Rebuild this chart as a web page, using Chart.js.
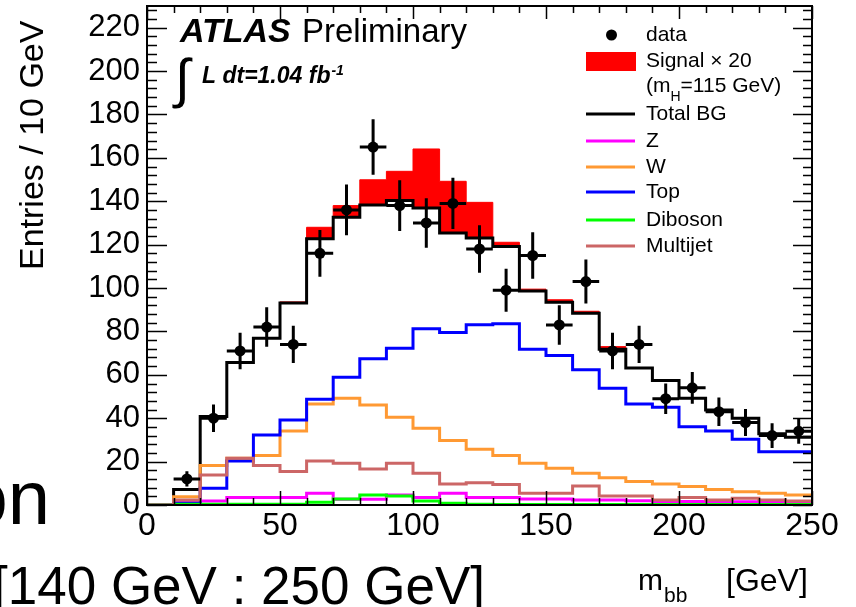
<!DOCTYPE html>
<html>
<head>
<meta charset="utf-8">
<script src="https://cdn.jsdelivr.net/npm/chart.js@4.4.1/dist/chart.umd.min.js"></script>
<style>
  html, body { margin: 0; padding: 0; background: #ffffff; }
  #wrap { width: 856px; height: 607px; position: relative; }
</style>
</head>
<body>
<div id="wrap"><canvas id="c" width="856" height="607"></canvas></div>
<script>
// ---------------- data ----------------
const binLow = [0,10,20,30,40,50,60,70,80,90,100,110,120,130,140,150,160,170,180,190,200,210,220,230,240];
const xEdgeMax = 250;
const xTickValues = [0,50,100,150,200,250];
const yTickValues = [0,20,40,60,80,100,120,140,160,180,200,220];

const dataCounts = [null,12,40,71,82,74,116,136,165,138,130,139,118,99,115,83,103,71,74,49,54,43,38,32,34];
const dataErrors = [null,3.5,6.3,8.4,9.1,8.6,10.8,11.7,12.8,11.7,11.4,11.8,10.9,9.9,10.7,9.1,10.1,8.4,8.6,7.0,7.3,6.6,6.2,5.7,5.8];

const totalBG   = [0,7.2,40.8,65.7,76.9,93.1,122.7,132.6,138.3,140.3,136.9,125.4,123.1,119.2,98.6,93.4,88.4,71.8,63.1,57.4,49.2,43.8,40.0,32.8,31.2];
const signalX20 = [0,0,0,0,0,0.5,5.3,5.4,11.6,13.5,27.2,23.8,16.4,1.9,0.9,1.2,0.9,1.2,0,0,0,0,0,0,0];
const zBG       = [0,1.1,1.8,3.4,3.4,3.4,5.4,2.6,2.6,4.6,3.4,5.4,3.5,3.5,2.8,2.8,2.3,2.3,2.0,1.6,1.6,1.5,1.5,1.5,1.5];
const wBG       = [0,3.8,18.2,21.5,22.8,34.1,46.6,49.2,46.1,40.5,35.4,29.7,25.7,22.8,19.2,16.9,14.6,12.6,10.8,9.7,8.5,7.2,6.1,5.4,4.6];
const topBG     = [0,0.8,7.7,20.3,32.3,39.2,48.8,58.9,67.4,72.3,81.2,79.5,83.1,83.5,71.8,68.9,62.3,53.8,46.6,45.1,36.1,34.1,30.3,24.6,24.6];
const dibosonBG = [0,0.3,0.3,0.3,0.3,0.3,1.3,2.8,4.6,4.2,1.8,0.8,0.3,0.2,0.2,0.2,0.2,0.2,0.2,0.2,0.2,0.2,0.2,0.2,0.2];
const multijetBG= [0,2.3,13.8,21.5,18.2,15.4,20.3,19.2,16.6,19.2,14.6,9.7,10.3,9.5,5.4,5.4,8.8,4.2,4.2,2.3,3.5,2.3,3.1,2.3,1.8];

// ---------------- helpers ----------------
const FONT = '"Liberation Sans", Arial, Helvetica, sans-serif';
Chart.defaults.font.family = FONT;
Chart.defaults.color = '#000';

function stepPoints(vals) {
  const pts = binLow.map((x, i) => ({ x: x, y: vals[i] }));
  pts.push({ x: xEdgeMax, y: vals[vals.length - 1] });
  return pts;
}
const binHalf = (binLow[1] - binLow[0]) / 2;
const dataPoints = [];
binLow.forEach((x, i) => {
  if (dataCounts[i] !== null) dataPoints.push({ x: x + binHalf, y: dataCounts[i], err: dataErrors[i] });
});
const signalTop = totalBG.map((v, i) => v + signalX20[i]);

const COL = {
  signal: '#ff0000', total: '#000000', z: '#ff00ff', w: '#ff9933',
  top: '#0000ff', diboson: '#00ff00', multijet: '#cc6666'
};

function histDS(label, vals, color, order, width) {
  return {
    label: label, data: stepPoints(vals), stepped: 'before',
    borderColor: color, borderWidth: width || 3, pointRadius: 0,
    fill: false, order: order, borderJoinStyle: 'miter', borderCapStyle: 'butt'
  };
}

// ---------------- plugins ----------------
const errorBars = {
  id: 'errorBars',
  afterDatasetsDraw(chart) {
    const xs = chart.scales.x, ys = chart.scales.y, ctx = chart.ctx;
    ctx.save();
    ctx.strokeStyle = '#000';
    ctx.lineWidth = 3;
    dataPoints.forEach(p => {
      const px = xs.getPixelForValue(p.x);
      const py = ys.getPixelForValue(p.y);
      ctx.beginPath();
      ctx.moveTo(px, ys.getPixelForValue(p.y + p.err));
      ctx.lineTo(px, ys.getPixelForValue(p.y - p.err));
      ctx.moveTo(xs.getPixelForValue(p.x - binHalf), py);
      ctx.lineTo(xs.getPixelForValue(p.x + binHalf), py);
      ctx.stroke();
    });
    ctx.restore();
  }
};

const frameTicks = {
  id: 'frameTicks',
  afterDatasetsDraw(chart) {
    const a = chart.chartArea, xs = chart.scales.x, ys = chart.scales.y, ctx = chart.ctx;
    ctx.save();
    ctx.strokeStyle = '#000';
    ctx.lineWidth = 1.5;
    ctx.beginPath();
    for (let v = 0; v <= 228; v += 4) {
      const py = Math.round(ys.getPixelForValue(v)) + 0.5;
      const major = v % 20 === 0;
      ctx.moveTo(a.left, py); ctx.lineTo(a.left + (major ? 20 : 10), py);
      ctx.moveTo(a.right, py); ctx.lineTo(a.right - (major ? 19 : 9), py);
    }
    for (let v = 0; v <= 250; v += 10) {
      const px = Math.round(xs.getPixelForValue(v)) + 0.5;
      const major = v % 50 === 0;
      ctx.moveTo(px, a.bottom); ctx.lineTo(px, a.bottom - (major ? 14 : 7));
      ctx.moveTo(px, a.top); ctx.lineTo(px, a.top + (major ? 13 : 7));
    }
    ctx.stroke();
    ctx.lineWidth = 2;
    ctx.strokeRect(a.left, a.top, a.right - a.left, a.bottom - a.top);
    ctx.restore();
  }
};

const texts = {
  id: 'texts',
  afterDraw(chart) {
    const ctx = chart.ctx;
    ctx.save();
    ctx.fillStyle = '#000';
    ctx.textBaseline = 'alphabetic';
    ctx.textAlign = 'left';

    // ATLAS label
    ctx.font = 'italic bold 34px ' + FONT;
    ctx.fillText('ATLAS', 180, 42);
    ctx.font = '33px ' + FONT;
    ctx.fillText('Preliminary', 302, 42);
    ctx.font = '54px ' + FONT;
    ctx.fillText('\u222B', 175, 97);
    ctx.font = 'italic bold 23px ' + FONT;
    const lum = 'L dt=1.04 fb';
    ctx.fillText(lum, 202, 83);
    const lw = ctx.measureText(lum).width;
    ctx.font = 'italic bold 14px ' + FONT;
    ctx.fillText('-1', 202 + lw + 1, 75);

    // Y axis title
    ctx.save();
    ctx.translate(43, 270);
    ctx.rotate(-Math.PI / 2);
    ctx.font = '34px ' + FONT;
    ctx.fillText('Entries / 10 GeV', 0, 0);
    ctx.restore();

    // X axis title
    ctx.font = '30px ' + FONT;
    ctx.fillText('m', 638, 590);
    ctx.font = '21px ' + FONT;
    ctx.fillText('bb', 664, 602);
    ctx.font = '32px ' + FONT;
    ctx.fillText('[GeV]', 726, 591);

    // slide remnants
    ctx.font = '76px ' + FONT;
    ctx.textAlign = 'right';
    ctx.fillText('on', 50, 524);
    ctx.textAlign = 'left';
    ctx.font = '53px ' + FONT;
    ctx.fillText('[140 GeV : 250 GeV]', -7, 604);

    // Legend
    ctx.font = '21px ' + FONT;
    ctx.textBaseline = 'middle';
    const tx = 646, lx0 = 586, lx1 = 635;
    ctx.beginPath(); ctx.arc(611.5, 35, 5.5, 0, Math.PI * 2); ctx.fill();
    ctx.fillText('data', tx, 35);
    ctx.fillStyle = COL.signal;
    ctx.fillRect(lx0, 52, lx1 - lx0 + 1, 19);
    ctx.fillStyle = '#000';
    ctx.fillText('Signal \u00D7 20', tx, 61);
    ctx.fillText('(m', tx, 86);
    const mw = ctx.measureText('(m').width;
    ctx.font = '14px ' + FONT;
    ctx.fillText('H', tx + mw, 97);
    const hw = ctx.measureText('H').width;
    ctx.font = '21px ' + FONT;
    ctx.fillText('=115 GeV)', tx + mw + hw, 86);
    const rows = [
      ['Total BG', COL.total, 114], ['Z', COL.z, 141], ['W', COL.w, 167],
      ['Top', COL.top, 192], ['Diboson', COL.diboson, 220], ['Multijet', COL.multijet, 246]
    ];
    rows.forEach(r => {
      ctx.strokeStyle = r[1]; ctx.lineWidth = 3;
      ctx.beginPath(); ctx.moveTo(lx0, r[2]); ctx.lineTo(lx1, r[2]); ctx.stroke();
      ctx.fillStyle = '#000';
      ctx.fillText(r[0], tx, r[2]);
    });
    ctx.restore();
  }
};

// ---------------- chart ----------------
new Chart(document.getElementById('c'), {
  type: 'line',
  data: {
    datasets: [
      { label: 'data', type: 'scatter', data: dataPoints, showLine: false,
        pointRadius: 5.5, pointBackgroundColor: '#000', pointBorderWidth: 0, order: 0 },
      { label: 'Signal x 20', data: stepPoints(signalTop), stepped: 'before',
        borderColor: COL.signal, borderWidth: 1, pointRadius: 0,
        fill: '+1', backgroundColor: COL.signal, order: 20 },
      histDS('Total BG', totalBG, COL.total, 10),
      histDS('Z', zBG, COL.z, 9),
      histDS('W', wBG, COL.w, 8),
      histDS('Top', topBG, COL.top, 7),
      histDS('Diboson', dibosonBG, COL.diboson, 6),
      histDS('Multijet', multijetBG, COL.multijet, 5)
    ]
  },
  options: {
    responsive: false,
    devicePixelRatio: 1,
    animation: false,
    events: [],
    layout: { padding: { top: 6, right: 44, left: 0, bottom: 0 } },
    plugins: { legend: { display: false }, tooltip: { enabled: false } },
    scales: {
      x: {
        type: 'linear', min: 0, max: 250,
        grid: { display: false, drawTicks: false },
        border: { display: false },
        afterBuildTicks: s => { s.ticks = xTickValues.map(v => ({ value: v })); },
        ticks: { font: { size: 32 }, color: '#000', padding: 2, maxRotation: 0, autoSkip: false },
        afterFit: s => { s.height = 102; s.paddingLeft = 0; s.paddingRight = 0; }
      },
      y: {
        type: 'linear', min: 0, max: 230,
        grid: { display: false, drawTicks: false },
        border: { display: false },
        afterBuildTicks: s => { s.ticks = yTickValues.map(v => ({ value: v })); },
        ticks: { font: { size: 31 }, color: '#000', padding: 7, autoSkip: false },
        afterFit: s => { s.width = 147; s.paddingTop = 0; s.paddingBottom = 0; }
      }
    }
  },
  plugins: [errorBars, frameTicks, texts]
});
</script>
</body>
</html>
